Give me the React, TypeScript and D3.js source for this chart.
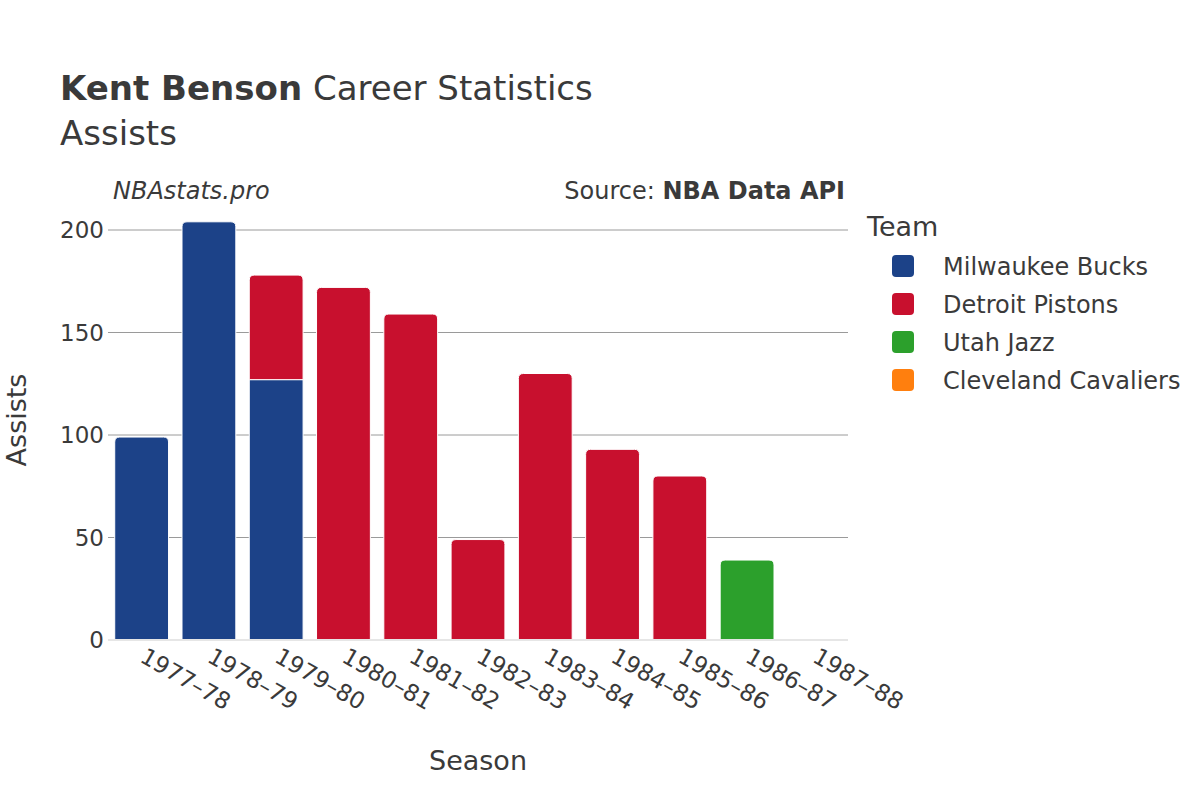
import React from "react";
import * as d3 from "d3";

const seasons = ["1977–78", "1978–79", "1979–80", "1980–81", "1981–82", "1982–83", "1983–84", "1984–85", "1985–86", "1986–87", "1987–88"];
const teams = ["Milwaukee Bucks", "Detroit Pistons", "Utah Jazz", "Cleveland Cavaliers"];
const teamColors = ["#1c4288", "#c8102e", "#2ca02c", "#ff7f0e"];
const milValues = [99, 204, 127, 0, 0, 0, 0, 0, 0, 0, 0];
const detValues = [0, 0, 51, 172, 159, 49, 130, 93, 80, 0, 0];
const utaValues = [0, 0, 0, 0, 0, 0, 0, 0, 0, 39, 0];
const cleValues = [0, 0, 0, 0, 0, 0, 0, 0, 0, 0, 0];
const yTicks = [0, 50, 100, 150, 200];

const seriesValues = [milValues, detValues, utaValues, cleValues];

const W = 1200, H = 800;
const left = 108, right = 848, bottom = 640;
const FONT = "'DejaVu Sans', sans-serif";
const TEXT = "#3a3a3a";

function topRoundedRect(x: number, y: number, w: number, h: number, r: number) {
  const rr = Math.min(r, h, w / 2);
  return `M${x},${y + h}V${y + rr}Q${x},${y} ${x + rr},${y}H${x + w - rr}Q${x + w},${y} ${x + w},${y + rr}V${y + h}Z`;
}

export default function App() {
  const x = d3.scaleBand<string>().domain(seasons).range([left, right]).paddingInner(0.2).paddingOuter(0.1);
  const y = d3.scaleLinear().domain([0, 210]).range([bottom, bottom - 210 * (410 / 200)]);

  const rows = seasons.map((s, i) => {
    const o: any = { season: s };
    teams.forEach((t, k) => (o[t] = seriesValues[k][i]));
    return o;
  });
  const stacked = d3.stack<any>().keys(teams)(rows);

  const topIdx = seasons.map((_, i) => {
    let idx = -1;
    teams.forEach((_, k) => { if (seriesValues[k][i] > 0) idx = k; });
    return idx;
  });

  return (
    <svg width={W} height={H} style={{ display: "block", position: "absolute", left: 0, top: 0 }} fontFamily={FONT}>
      <rect width={W} height={H} fill="#fff" />
      <text x={60} y={100} fontSize={34} fill={TEXT}>
        <tspan fontWeight="bold">Kent Benson</tspan> Career Statistics
      </text>
      <text x={60} y={145} fontSize={34} fill={TEXT}>Assists</text>
      <text x={113} y={199} fontSize={24} fontStyle="italic" fill={TEXT}>NBAstats.pro</text>
      <text x={845} y={199} fontSize={24} textAnchor="end" fill={TEXT}>
        Source: <tspan fontWeight="bold">NBA Data API</tspan>
      </text>

      {yTicks.filter(t => t > 0).map(t => (
        <line key={t} x1={left} x2={right} y1={y(t)} y2={y(t)} stroke="#9a9a9a" strokeWidth={1} />
      ))}
      {yTicks.map(t => (
        <text key={t} x={104} y={y(t)} dy="0.35em" fontSize={23} textAnchor="end" fill={TEXT}>{t}</text>
      ))}

      {stacked.map((layer, k) => (
        <g key={teams[k]}>
          {layer.map((d, i) => {
            const v = d[1] - d[0];
            if (v <= 0) return null;
            const bx = x(seasons[i])!;
            const bw = x.bandwidth();
            const y0 = y(d[0]), y1 = y(d[1]);
            const path = k === topIdx[i]
              ? topRoundedRect(bx, y1, bw, y0 - y1, 5)
              : `M${bx},${y0}V${y1}H${bx + bw}V${y0}Z`;
            return <path key={i} d={path} fill={teamColors[k]} stroke="#fff" strokeWidth={1} />;
          })}
        </g>
      ))}

      <line x1={left} x2={right} y1={bottom} y2={bottom} stroke="#e6e6e6" strokeWidth={2} />

      {seasons.map(s => {
        const cx = x(s)! + x.bandwidth() / 2;
        return (
          <text key={s} transform={`translate(${cx - 3},${661}) rotate(30)`} fontSize={23} fill={TEXT}>{s}</text>
        );
      })}

      <text transform={`translate(26,${420}) rotate(-90)`} fontSize={27} textAnchor="middle" fill={TEXT}>Assists</text>
      <text x={478} y={770} fontSize={27} textAnchor="middle" fill={TEXT}>Season</text>

      <text x={867} y={236} fontSize={27} fill={TEXT}>Team</text>
      {teams.map((t, k) => (
        <g key={t} transform={`translate(0,${266 + k * 38})`}>
          <rect x={892} y={-11} width={22} height={22} rx={4} fill={teamColors[k]} />
          <text x={943} y={1} dy="0.35em" fontSize={24} fill={TEXT}>{t}</text>
        </g>
      ))}
    </svg>
  );
}
